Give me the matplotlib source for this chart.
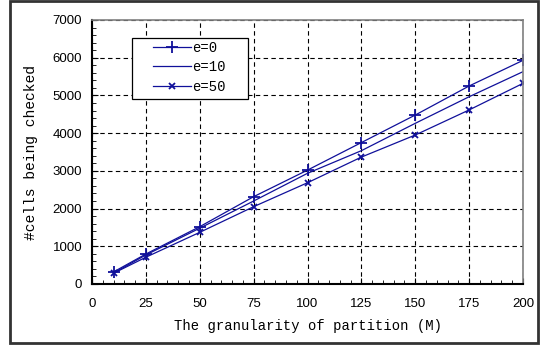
import numpy as np
import matplotlib.pyplot as plt
from matplotlib.patches import Rectangle
from matplotlib.ticker import MultipleLocator

x = [10, 25, 50, 75, 100, 125, 150, 175, 200]
e0 = [320, 795, 1520, 2315, 3020, 3750, 4480, 5250, 5930]
e10 = [290, 770, 1480, 2200, 2935, 3535, 4260, 4965, 5630]
e50 = [285, 710, 1370, 2050, 2685, 3365, 3950, 4615, 5320]
labels = ['e=0', 'e=10', 'e=50']

c = '#10109a'
W, H = 540, 348
fig = plt.figure(figsize=(5.4, 3.48), dpi=100)
ax = fig.add_axes([92/W, 1-284/H, 431/W, 264/H])

ax.plot(x, e0, color=c, lw=0.9, marker='+', ms=8, mew=1.3, label=labels[0])
ax.plot(x, e10, color=c, lw=0.9, label=labels[1])
ax.plot(x, e50, color=c, lw=0.9, marker='x', ms=5, mew=1.3, label=labels[2])

ax.set_xlim(0, 200)
ax.set_ylim(0, 7000)
ax.xaxis.set_major_locator(MultipleLocator(25))
ax.xaxis.set_minor_locator(MultipleLocator(5))
ax.yaxis.set_major_locator(MultipleLocator(1000))
ax.yaxis.set_minor_locator(MultipleLocator(200))
ax.grid(True, which='major', color='black', ls=(0, (4, 3)), lw=0.8)
ax.tick_params(which='both', direction='in', top=False, right=False)
ax.tick_params(which='major', length=4, labelsize=9.5)
ax.tick_params(which='minor', length=3)
ax.tick_params(axis='x', pad=10)
ax.tick_params(axis='y', pad=7)
for lab in ax.get_xticklabels() + ax.get_yticklabels():
    lab.set_family('Liberation Sans')
for s in ['left', 'bottom']:
    ax.spines[s].set_linewidth(1.5)
for s in ['top', 'right']:
    ax.spines[s].set_color('gray')
    ax.spines[s].set_linewidth(1.2)

ax.set_xlabel('The granularity of partition (M)', family='Liberation Mono', fontsize=10, labelpad=6.5)
ax.set_ylabel('#cells being checked', family='Liberation Mono', fontsize=10.5)
ax.yaxis.set_label_coords(-54/431, 0.5)

# legend box drawn separately so the padding can match the original
leg = ax.legend(loc='upper left', bbox_to_anchor=((153-92)/431, (284-41)/264),
                prop={'family': 'Liberation Mono', 'size': 10}, frameon=False,
                borderaxespad=0, borderpad=0, handlelength=2.7, handletextpad=0.15,
                labelspacing=0.38)
ax.add_patch(Rectangle(((132-92)/431, (284-99)/264), 116/431, 61/264, transform=ax.transAxes,
                       facecolor='white', edgecolor='black', lw=0.9, zorder=4.9))
leg.set_zorder(5)

fig.patches.append(Rectangle((10/W, 5/H), 528/W, 342/H, transform=fig.transFigure,
                             fill=False, edgecolor='#333333', lw=2))

plt.savefig('out.png', dpi=100)
